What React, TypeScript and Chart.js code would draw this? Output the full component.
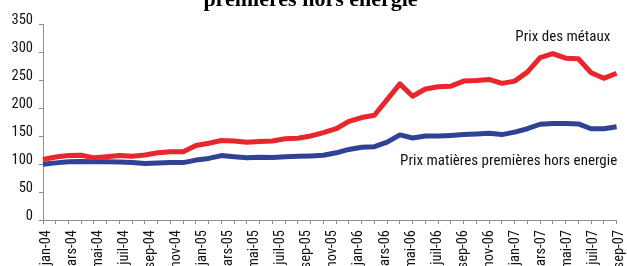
import React, { useEffect, useRef } from 'react';
import { Chart, registerables } from 'chart.js';

Chart.register(...registerables);

// Monthly observations, jan-04 .. oct-07
const months = [
  'jan-04', 'févr-04', 'mars-04', 'avr-04', 'mai-04', 'juin-04', 'juil-04', 'août-04', 'sep-04', 'oct-04', 'nov-04', 'déc-04',
  'jan-05', 'févr-05', 'mars-05', 'avr-05', 'mai-05', 'juin-05', 'juil-05', 'août-05', 'sep-05', 'oct-05', 'nov-05', 'déc-05',
  'jan-06', 'févr-06', 'mars-06', 'avr-06', 'mai-06', 'juin-06', 'juil-06', 'août-06', 'sep-06', 'oct-06', 'nov-06', 'déc-06',
  'jan-07', 'févr-07', 'mars-07', 'avr-07', 'mai-07', 'juin-07', 'juil-07', 'août-07', 'sep-07', 'oct-07',
];

const prixMetaux = [
  108, 112.5, 115, 115.5, 111, 113, 115, 114, 116, 120, 122, 122,
  133, 137, 142, 141, 139, 140, 141, 145, 146, 150, 156, 163,
  176, 183, 187, 215, 243, 221, 234, 238, 239, 248, 249, 251,
  244, 248, 264, 290, 297, 289, 288, 263, 253, 262,
];

const prixHorsEnergie = [
  99.5, 102, 104, 104.5, 104, 104, 103.5, 102.5, 101, 102, 102.5, 102.5,
  107, 110, 115, 113, 111, 112, 111.5, 113, 114, 114.5, 115.5, 120,
  126, 130, 131, 139, 152, 146.5, 150, 150, 151, 152.5, 153.5, 155,
  152.5, 157, 163, 171, 172.5, 172.5, 171.5, 163, 163, 166.5,
];

// Axis labels shown every two months (jan-04 .. sep-07)
const tickLabels = [
  'jan-04', 'mars-04', 'mai-04', 'juil-04', 'sep-04', 'nov-04',
  'jan-05', 'mars-05', 'mai-05', 'juil-05', 'sep-05', 'nov-05',
  'jan-06', 'mars-06', 'mai-06', 'juil-06', 'sep-06', 'nov-06',
  'jan-07', 'mars-07', 'mai-07', 'juil-07', 'sep-07',
];

const yTicks = [0, 50, 100, 150, 200, 250, 300, 350];

const titleText = 'premières hors énergie';
const seriesNames = ['Prix des métaux', 'Prix matières premières hors energie'];

const NARROW = "'Roboto Condensed', 'DejaVu Sans Condensed', sans-serif";
const AXIS_GREY = '#8f8f8f';

const annotationPlugin = {
  id: 'seriesAnnotations',
  afterDatasetsDraw(chart: any) {
    const { ctx, scales } = chart;
    const x = scales.x;
    const y = scales.y;
    const notes = [
      { text: seriesNames[0], index: 44.5, value: 326 },
      { text: seriesNames[1], index: 45.05, value: 105.5 },
    ];
    ctx.save();
    ctx.font = `15px ${NARROW}`;
    ctx.fillStyle = '#111';
    ctx.textAlign = 'right';
    ctx.textBaseline = 'middle';
    for (const n of notes) {
      ctx.fillText(n.text, x.getPixelForValue(n.index), y.getPixelForValue(n.value));
    }
    ctx.restore();
  },
};

export default function App() {
  const ref = useRef<HTMLCanvasElement | null>(null);

  useEffect(() => {
    if (!ref.current) return;
    const labelAxis: string[] = [];
    for (let m = 0; m < tickLabels.length * 2 - 1; m++) {
      labelAxis.push(m % 2 === 0 ? tickLabels[m / 2] : '');
    }
    const chart = new Chart(ref.current, {
      type: 'line',
      data: {
        labels: months,
        datasets: [
          {
            label: seriesNames[0],
            data: prixMetaux,
            borderColor: '#e8262b',
            borderWidth: 5,
            pointRadius: 0,
            tension: 0,
            borderJoinStyle: 'round',
            borderCapStyle: 'butt',
          },
          {
            label: seriesNames[1],
            data: prixHorsEnergie,
            borderColor: '#2f4296',
            borderWidth: 5,
            pointRadius: 0,
            tension: 0,
            borderJoinStyle: 'round',
            borderCapStyle: 'butt',
          },
        ],
      },
      options: {
        responsive: false,
        animation: false,
        devicePixelRatio: 1,
        layout: { padding: { left: 0, right: 19, top: 0, bottom: 0 } },
        plugins: {
          legend: { display: false },
          tooltip: { enabled: false },
          title: {
            display: true,
            text: titleText,
            color: '#000',
            font: { family: "'Liberation Serif', 'DejaVu Serif', serif", size: 22, weight: 'bold', lineHeight: 1.2 },
            padding: { top: 0, bottom: 10.6 },
          },
        },
        scales: {
          x: {
            type: 'category',
            position: 'bottom',
            weight: 0,
            offset: false,
            ticks: { display: false },
            grid: { display: true, drawOnChartArea: false, drawTicks: true, tickLength: 4, color: AXIS_GREY },
            border: { display: true, color: AXIS_GREY, width: 1 },
          },
          x2: {
            type: 'category',
            position: 'bottom',
            weight: 1,
            labels: labelAxis,
            offset: false,
            grid: { display: false, drawTicks: false },
            border: { display: false },
            ticks: {
              autoSkip: false,
              minRotation: 90,
              maxRotation: 90,
              padding: 6,
              labelOffset: 3,
              color: '#111',
              font: { family: NARROW, size: 14.5 },
            },
            afterFit: (s: any) => { s.height = 50; },
          },
          y: {
            min: 0,
            max: 350,
            afterBuildTicks: (s: any) => { s.ticks = yTicks.map((v) => ({ value: v })); },
            ticks: {
              padding: 6,
              labelOffset: -4,
              color: '#111',
              font: { family: NARROW, size: 14.5 },
            },
            grid: { display: true, drawOnChartArea: false, drawTicks: true, tickLength: 4, color: AXIS_GREY },
            border: { display: true, color: AXIS_GREY, width: 1 },
            afterFit: (s: any) => { s.width = 43; },
          },
        },
      },
      plugins: [annotationPlugin],
    } as any);
    return () => chart.destroy();
  }, []);

  return (
    <div style={{ position: 'fixed', left: 0, top: 0, width: 627, height: 266, overflow: 'hidden', background: '#fff' }}>
      <div style={{ position: 'absolute', left: 0, top: -13, width: 640, height: 287 }}>
        <canvas ref={ref} width={640} height={287} style={{ width: 640, height: 287, display: 'block' }} />
      </div>
    </div>
  );
}
